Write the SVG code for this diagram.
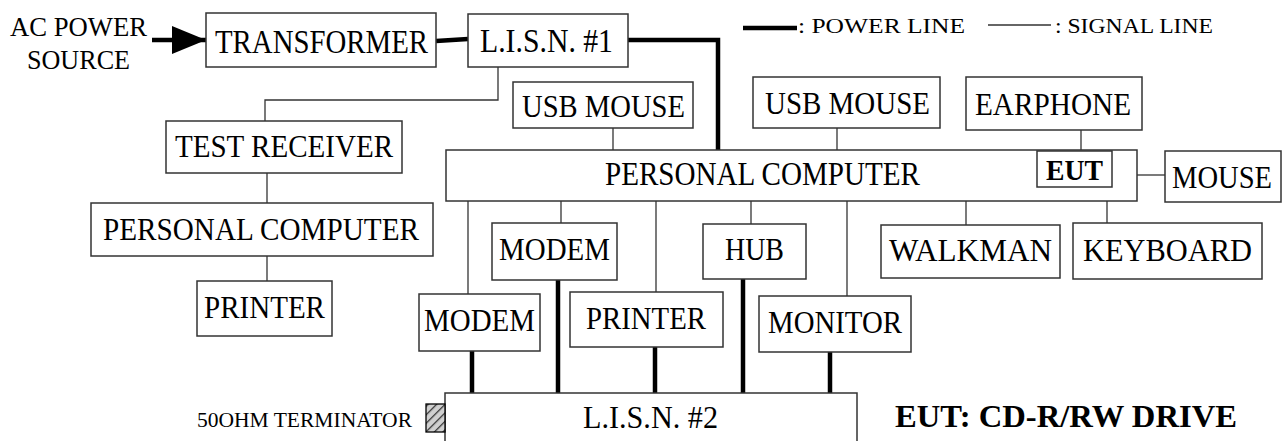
<svg xmlns="http://www.w3.org/2000/svg" width="1288" height="441" viewBox="0 0 1288 441">
  <style>
    .box { fill: #fff; stroke: #333; stroke-width: 1.5; }
    .sig { fill: none; stroke: #333; stroke-width: 1.3; }
    .pwr { fill: none; stroke: #000; stroke-width: 4.5; }
    text { font-family: "Liberation Serif", "Times New Roman", serif; fill: #000; }
    .lbl { font-size: 31px; }
    .big { font-size: 33px; }
    .small { font-size: 22px; }
    .bold { font-weight: bold; }
  </style>
  <defs>
    <marker id="arrowHead" markerUnits="userSpaceOnUse" markerWidth="34" markerHeight="28" refX="34" refY="14" orient="auto">
      <path d="M0,0 L34,14 L0,28 Z" fill="#000"/>
    </marker>
    <pattern id="hatch" patternUnits="userSpaceOnUse" width="6" height="6" patternTransform="rotate(45)">
      <rect width="6" height="6" fill="#d0d0d0"/>
      <line x1="0" y1="0" x2="0" y2="6" stroke="#333" stroke-width="2.5"/>
    </pattern>
  </defs>
  <rect width="1288" height="441" fill="#fff"/>

  <!-- legend -->
  <g id="legend">
    <line class="pwr" x1="743" y1="28" x2="797" y2="28"/>
    <text class="small" x="798" y="33" textLength="167" lengthAdjust="spacingAndGlyphs">: POWER LINE</text>
    <line class="sig" x1="988" y1="25" x2="1051" y2="25"/>
    <text class="small" x="1055" y="33" textLength="158" lengthAdjust="spacingAndGlyphs">: SIGNAL LINE</text>
  </g>

  <!-- connectors -->
  <g id="connectors">
    <!-- mains feed -->
    <line class="pwr" x1="152" y1="40" x2="206" y2="40" marker-end="url(#arrowHead)"/>
    <line class="pwr" x1="436" y1="41" x2="468" y2="39"/>
    <polyline class="pwr" points="628,40 718,40 718,152"/>
    <!-- LISN #1 to test receiver -->
    <polyline class="sig" points="498,67 498,100 265,100 265,121"/>
    <line class="sig" x1="267" y1="173" x2="267" y2="203"/>
    <line class="sig" x1="267" y1="256" x2="267" y2="281"/>
    <!-- peripherals above the PC -->
    <line class="sig" x1="613" y1="128" x2="613" y2="150"/>
    <line class="sig" x1="837" y1="128" x2="837" y2="150"/>
    <line class="sig" x1="1081" y1="130" x2="1081" y2="151"/>
    <line class="sig" x1="1137" y1="175" x2="1165" y2="175"/>
    <!-- peripherals below the PC -->
    <line class="sig" x1="468" y1="201" x2="468" y2="294"/>
    <line class="sig" x1="561" y1="201" x2="561" y2="223"/>
    <line class="sig" x1="656" y1="201" x2="656" y2="292"/>
    <line class="sig" x1="751" y1="201" x2="751" y2="224"/>
    <line class="sig" x1="847" y1="201" x2="847" y2="296"/>
    <line class="sig" x1="966" y1="201" x2="966" y2="225"/>
    <line class="sig" x1="1107" y1="201" x2="1107" y2="223"/>
    <!-- power to LISN #2 -->
    <line class="pwr" x1="472" y1="351" x2="472" y2="394"/>
    <line class="pwr" x1="558" y1="280" x2="558" y2="396"/>
    <line class="pwr" x1="655" y1="347" x2="655" y2="394"/>
    <line class="pwr" x1="743" y1="279" x2="743" y2="396"/>
    <line class="pwr" x1="830" y1="352" x2="830" y2="394"/>
  </g>

  <g id="ac-source">
    <text x="10" y="36" font-size="27" textLength="137" lengthAdjust="spacingAndGlyphs">AC POWER</text>
    <text x="27" y="69" font-size="27" textLength="103" lengthAdjust="spacingAndGlyphs">SOURCE</text>
  </g>

  <g id="transformer">
    <rect class="box" x="206" y="13" width="230" height="54"/>
    <text class="big" x="215" y="53" textLength="213" lengthAdjust="spacingAndGlyphs">TRANSFORMER</text>
  </g>

  <g id="lisn1">
    <rect class="box" x="468" y="14" width="160" height="53"/>
    <text class="big" x="480" y="52" textLength="133" lengthAdjust="spacingAndGlyphs">L.I.S.N. #1</text>
  </g>

  <g id="usb-mouse-1">
    <rect class="box" x="513" y="82" width="180" height="46"/>
    <text class="lbl" x="522" y="117" textLength="163" lengthAdjust="spacingAndGlyphs">USB MOUSE</text>
  </g>

  <g id="usb-mouse-2">
    <rect class="box" x="753" y="77" width="187" height="51"/>
    <text class="lbl" x="765" y="114" textLength="165" lengthAdjust="spacingAndGlyphs">USB MOUSE</text>
  </g>

  <g id="earphone">
    <rect class="box" x="966" y="77" width="176" height="53"/>
    <text class="lbl" x="975" y="115" textLength="156" lengthAdjust="spacingAndGlyphs">EARPHONE</text>
  </g>

  <g id="test-receiver">
    <rect class="box" x="166" y="121" width="236" height="52"/>
    <text class="lbl" x="175" y="157" textLength="218" lengthAdjust="spacingAndGlyphs">TEST RECEIVER</text>
  </g>

  <g id="pc-main">
    <rect class="box" x="446" y="150" width="691" height="51"/>
    <text class="big" x="605" y="185" textLength="315" lengthAdjust="spacingAndGlyphs">PERSONAL COMPUTER</text>
  </g>

  <g id="eut">
    <rect class="box" x="1037" y="151" width="75" height="36"/>
    <text class="bold" x="1046" y="180" font-size="29" textLength="57" lengthAdjust="spacingAndGlyphs">EUT</text>
  </g>

  <g id="mouse">
    <rect class="box" x="1165" y="151" width="116" height="51"/>
    <text class="lbl" x="1172" y="188" textLength="100" lengthAdjust="spacingAndGlyphs">MOUSE</text>
  </g>

  <g id="pc-receiver">
    <rect class="box" x="91" y="203" width="342" height="53"/>
    <text class="lbl" x="103" y="240" textLength="316" lengthAdjust="spacingAndGlyphs">PERSONAL COMPUTER</text>
  </g>

  <g id="printer-receiver">
    <rect class="box" x="197" y="281" width="135" height="55"/>
    <text class="lbl" x="204" y="318" textLength="121" lengthAdjust="spacingAndGlyphs">PRINTER</text>
  </g>

  <g id="modem-1">
    <rect class="box" x="492" y="223" width="125" height="57"/>
    <text class="lbl" x="499" y="260" textLength="111" lengthAdjust="spacingAndGlyphs">MODEM</text>
  </g>

  <g id="hub">
    <rect class="box" x="703" y="224" width="103" height="55"/>
    <text class="lbl" x="725" y="260" textLength="59" lengthAdjust="spacingAndGlyphs">HUB</text>
  </g>

  <g id="walkman">
    <rect class="box" x="881" y="225" width="179" height="53"/>
    <text class="lbl" x="889" y="261" textLength="163" lengthAdjust="spacingAndGlyphs">WALKMAN</text>
  </g>

  <g id="keyboard">
    <rect class="box" x="1073" y="223" width="189" height="56"/>
    <text class="lbl" x="1083" y="261" textLength="169" lengthAdjust="spacingAndGlyphs">KEYBOARD</text>
  </g>

  <g id="modem-2">
    <rect class="box" x="419" y="294" width="121" height="57"/>
    <text class="lbl" x="424" y="331" textLength="111" lengthAdjust="spacingAndGlyphs">MODEM</text>
  </g>

  <g id="printer">
    <rect class="box" x="570" y="292" width="153" height="55"/>
    <text class="lbl" x="586" y="329" textLength="120" lengthAdjust="spacingAndGlyphs">PRINTER</text>
  </g>

  <g id="monitor">
    <rect class="box" x="759" y="296" width="152" height="56"/>
    <text class="lbl" x="768" y="333" textLength="134" lengthAdjust="spacingAndGlyphs">MONITOR</text>
  </g>

  <g id="lisn2">
    <rect class="box" x="445" y="393" width="412" height="60"/>
    <text class="lbl" x="583" y="428" textLength="135" lengthAdjust="spacingAndGlyphs">L.I.S.N. #2</text>
  </g>

  <g id="terminator">
    <rect x="426" y="404" width="19" height="28" fill="url(#hatch)" stroke="#000" stroke-width="1.3"/>
    <text class="small" x="197" y="427" textLength="215" lengthAdjust="spacingAndGlyphs">50OHM TERMINATOR</text>
  </g>

  <g id="caption">
    <text class="bold" x="895" y="427" font-size="32" textLength="342" lengthAdjust="spacingAndGlyphs">EUT: CD-R/RW DRIVE</text>
  </g>
</svg>
